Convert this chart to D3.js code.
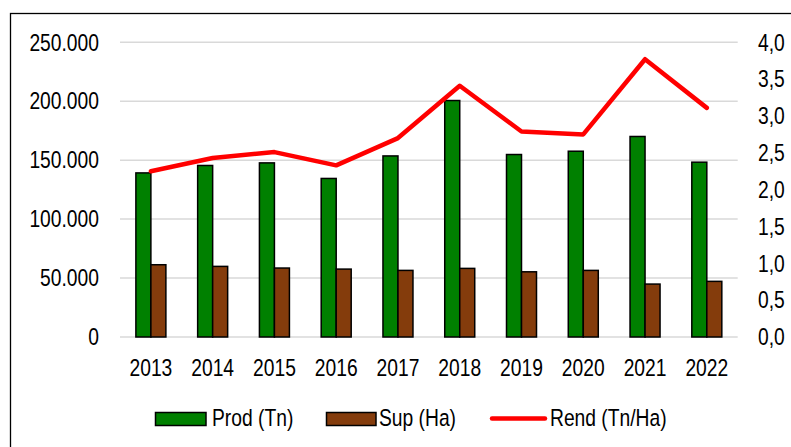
<!DOCTYPE html>
<html><head><meta charset="utf-8">
<script src="https://cdn.jsdelivr.net/npm/d3@7"></script>
<style>html,body{margin:0;padding:0;background:#fff;overflow:hidden}svg{display:block}</style>
</head><body>
<svg id="c" width="791" height="447"></svg>
<script>
const years = ["2013","2014","2015","2016","2017","2018","2019","2020","2021","2022"];
const prod = [139200,145500,147700,134500,153600,200600,154800,157600,170100,148300];
const sup = [61300,59900,58500,57600,56500,58200,55300,56500,44900,47200];
const rend = [2.25,2.43,2.51,2.33,2.70,3.41,2.79,2.75,3.77,3.11];
const leftTicks = [0,50000,100000,150000,200000,250000];
const rightTicks = [0,0.5,1,1.5,2,2.5,3,3.5,4];
const seriesNames = ["Prod (Tn)","Sup (Ha)","Rend (Tn/Ha)"];
const colors = {prod:"#008000", sup:"#843c0c", rend:"#ff0000"};

const FONT = "'Liberation Sans',Arial,sans-serif";
const FS = 23.5, SX = 0.82;
const svg = d3.select("#c");
const W = 791, H = 447;
const m = {left:120, right:W-737.7, top:42.3, bottom:H-337};

function squeeze(sel){
  sel.each(function(){
    const t = d3.select(this);
    const xv = +(t.attr("x") || 0);
    t.attr("x", xv/SX).attr("transform", `scale(${SX},1)`)
     .attr("font-family",FONT).attr("font-size",FS).attr("fill","#000");
  });
}

// frame
svg.append("rect").attr("x",10.5).attr("y",13.5).attr("width",800).attr("height",500)
  .attr("fill","#fff").attr("stroke","#000").attr("stroke-width",1.3);

const x = d3.scaleBand().domain(years).range([m.left, W-m.right]).paddingInner(0).paddingOuter(0);
const yL = d3.scaleLinear().domain([0,250000]).range([337,42.3]);
const yR = d3.scaleLinear().domain([0,4]).range([337,42.3]);

// gridlines
svg.append("g").selectAll("line").data(leftTicks).join("line")
  .attr("x1",m.left).attr("x2",W-m.right)
  .attr("y1",d=>yL(d)).attr("y2",d=>yL(d))
  .attr("stroke","#d9d9d9").attr("stroke-width",1.5);

const fmtL = d => d3.format(",")(d).replace(/,/g,".");
const fmtR = d => d.toFixed(1).replace(".",",");

// left axis
const gl = svg.append("g").attr("transform",`translate(99,0)`)
  .call(d3.axisLeft(yL).tickValues(leftTicks).tickFormat(fmtL).tickSize(0).tickPadding(0));
gl.select(".domain").remove();
gl.selectAll("text").attr("dy","0.33em").call(squeeze);

// right axis
const gr = svg.append("g").attr("transform",`translate(758,0)`)
  .call(d3.axisRight(yR).tickValues(rightTicks).tickFormat(fmtR).tickSize(0).tickPadding(0));
gr.select(".domain").remove();
gr.selectAll("text").attr("dy","0.33em").call(squeeze);

// x axis labels
const gx = svg.append("g").attr("transform",`translate(0,337)`)
  .call(d3.axisBottom(x).tickSize(0).tickPadding(22));
gx.select(".domain").remove();
gx.selectAll("text").attr("dy","0.71em").call(squeeze);

// bars
const bw = 15;
svg.append("g").selectAll("rect").data(years).join("rect")
  .attr("x",(d)=>x(d)+x.bandwidth()/2-bw).attr("width",bw)
  .attr("y",(d,i)=>yL(prod[i])).attr("height",(d,i)=>yL(0)-yL(prod[i]))
  .attr("fill",colors.prod).attr("stroke","#000").attr("stroke-width",1.5);
svg.append("g").selectAll("rect").data(years).join("rect")
  .attr("x",(d)=>x(d)+x.bandwidth()/2).attr("width",bw)
  .attr("y",(d,i)=>yL(sup[i])).attr("height",(d,i)=>yL(0)-yL(sup[i]))
  .attr("fill",colors.sup).attr("stroke","#000").attr("stroke-width",1.5);

// line
const line = d3.line().x((d,i)=>x(years[i])+x.bandwidth()/2).y(d=>yR(d));
svg.append("path").datum(rend).attr("d",line).attr("fill","none")
  .attr("stroke",colors.rend).attr("stroke-width",4.5).attr("stroke-linejoin","round").attr("stroke-linecap","round");

// legend
const lg = svg.append("g");
const ly = 418.5;
lg.append("rect").attr("x",155.5).attr("y",412.5).attr("width",50.5).attr("height",13)
  .attr("fill",colors.prod).attr("stroke","#000").attr("stroke-width",1.5);
lg.append("text").attr("x",212).attr("y",ly).attr("dy","0.3em").text(seriesNames[0]).call(squeeze);
lg.append("rect").attr("x",326.5).attr("y",412.5).attr("width",49.5).attr("height",13)
  .attr("fill",colors.sup).attr("stroke","#000").attr("stroke-width",1.5);
lg.append("text").attr("x",379).attr("y",ly).attr("dy","0.3em").text(seriesNames[1]).call(squeeze);
lg.append("line").attr("x1",492).attr("x2",545).attr("y1",ly).attr("y2",ly)
  .attr("stroke",colors.rend).attr("stroke-width",4.5).attr("stroke-linecap","round");
lg.append("text").attr("x",550).attr("y",ly).attr("dy","0.3em").text(seriesNames[2]).call(squeeze);
</script>
</body></html>
